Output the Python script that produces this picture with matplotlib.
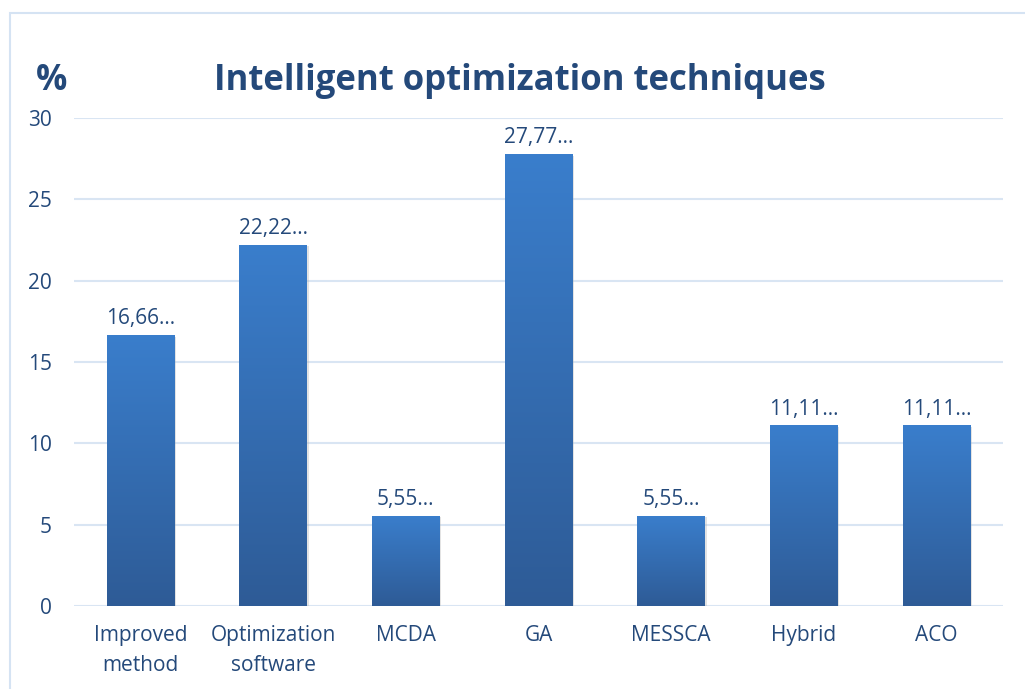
import numpy as np
import matplotlib.pyplot as plt
from matplotlib.colors import LinearSegmentedColormap
from matplotlib.patches import Rectangle

categories = ["Improved\nmethod", "Optimization\nsoftware", "MCDA", "GA", "MESSCA", "Hybrid", "ACO"]
values = [16.666, 22.222, 5.555, 27.777, 5.555, 11.111, 11.111]
value_labels = ["16,66…", "22,22…", "5,55…", "27,77…", "5,55…", "11,11…", "11,11…"]
yticks = [0, 5, 10, 15, 20, 25, 30]

text_color = "#24497a"
grid_color = "#d9e5f3"
plt.rcParams["font.family"] = ["Open Sans", "DejaVu Sans"]

fig = plt.figure(figsize=(10.25, 6.89), dpi=100)
ax = fig.add_axes([0.0722, 0.1205, 0.9063, 0.7082])

# outer chart border
fig.patches.append(Rectangle((10 / 1025, -0.01), 1.1, 1 - 13 / 689 + 0.01, transform=fig.transFigure,
                             fill=False, edgecolor="#d5e3f3", linewidth=1.5))

x = np.arange(len(categories))
bars = ax.bar(x, values, width=0.51, color="#3470b8", zorder=3)

# gradient fill: lighter at top, darker at bottom
cmap = LinearSegmentedColormap.from_list("g", ["#2e5b96", "#3a7ecc"])
grad = np.linspace(0, 1, 256).reshape(-1, 1)
for b in bars:
    bx, by = b.get_x(), b.get_y()
    w, h = b.get_width(), b.get_height()
    # soft shadow on the right
    ax.add_patch(Rectangle((bx + 0.012, by - 0.1), w, h, color="#b0b0b0", alpha=0.35, zorder=2, linewidth=0))
    im = ax.imshow(grad, cmap=cmap, aspect="auto", origin="lower",
                   extent=[bx, bx + w, by, by + h], zorder=4)
    im.set_clip_path(b)

for xi, v, lab in zip(x, values, value_labels):
    ax.text(xi, v + 0.35, lab, ha="center", va="bottom", fontsize=15, color=text_color, zorder=5)

ax.set_xlim(-0.5, len(categories) - 0.5)
ax.set_ylim(0, 30)
ax.set_yticks(yticks)
ax.set_xticks(x)
ax.set_xticklabels(categories, fontsize=15, color=text_color, linespacing=1.55)
ax.tick_params(axis="y", labelsize=15, labelcolor=text_color, length=0, pad=16)
ax.tick_params(axis="x", length=0, pad=14)
ax.grid(axis="y", color=grid_color, linewidth=1.5, zorder=0)
for s in ax.spines.values():
    s.set_visible(False)

fig.text(0.507, 0.883, "Intelligent optimization techniques", ha="center", va="center",
         fontsize=25, fontweight="bold", color=text_color)
fig.text(0.05, 0.883, "%", ha="center", va="center", fontsize=25, fontweight="bold", color=text_color)

fig.savefig("out.png", dpi=100)
